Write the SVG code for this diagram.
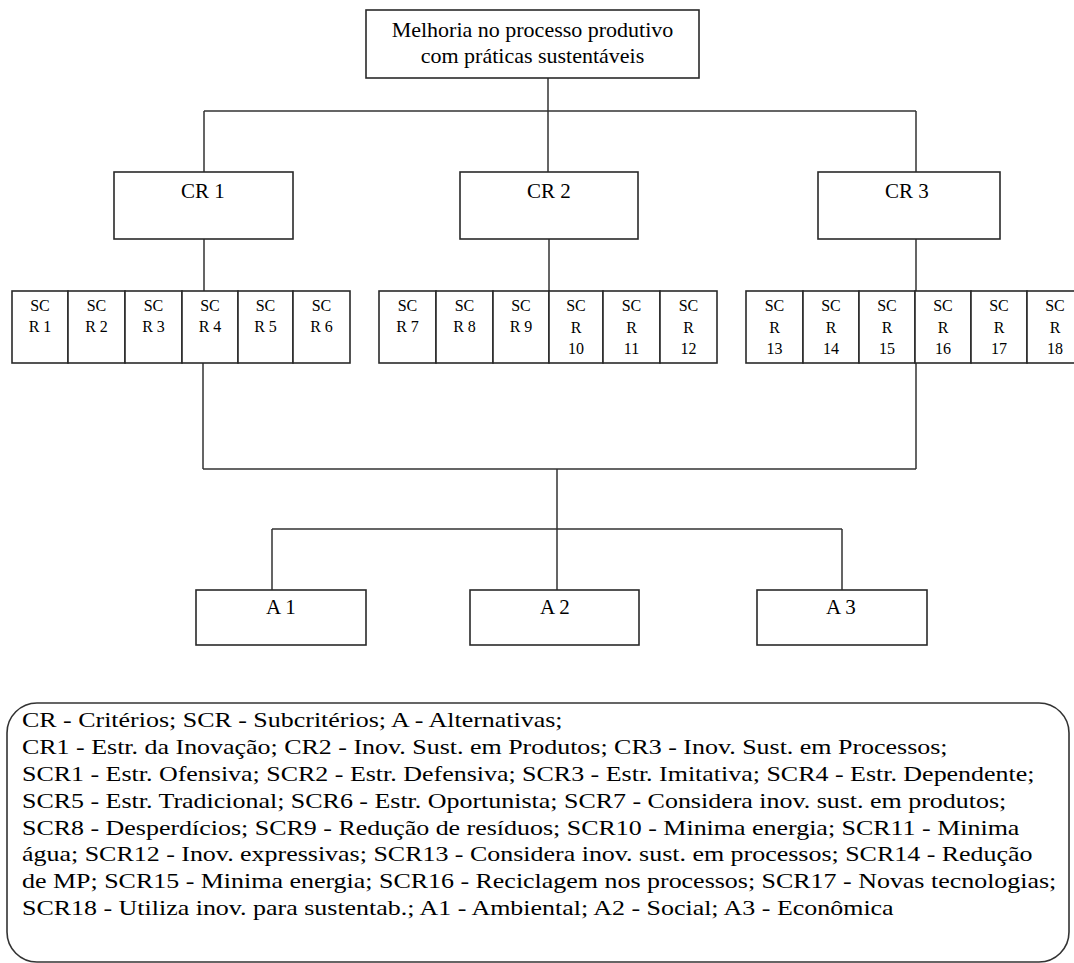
<svg xmlns="http://www.w3.org/2000/svg" width="1074" height="963" viewBox="0 0 1074 963">
<style>
.box{fill:#fff;stroke:#2a2a2a;stroke-width:1.6}
.ln{stroke:#333;stroke-width:1.5;fill:none}
.t{font-family:"Liberation Serif","Times New Roman",serif;fill:#000;text-anchor:middle}
.top{font-size:22px}
.cr{font-size:21px}
.sc{font-size:16px}
.lg{font-family:"Liberation Serif","Times New Roman",serif;font-size:22px;fill:#000}
</style>
<rect width="1074" height="963" fill="#fff"/>
<g id="connectors">
<path class="ln" d="M548,78V111M204,111H916M204,111V172M548,111V172M916,111V172"/>
<path class="ln" d="M204,239V291M549,239V291M916,239V291"/>
<path class="ln" d="M203,363V469M916,363V469M203,469H916"/>
<path class="ln" d="M557,469V590M272,529H842M272,529V590M842,529V590"/>
</g>
<g id="goal">
<rect class="box" x="366" y="10" width="333" height="68"/>
<text class="t top" x="532.5" y="37">Melhoria no processo produtivo</text>
<text class="t top" x="532.5" y="63">com práticas sustentáveis</text>
</g>
<g id="cr1"><rect class="box" x="114" y="172" width="179" height="67"/><text class="t cr" x="203" y="198">CR 1</text></g>
<g id="cr2"><rect class="box" x="460" y="172" width="178" height="67"/><text class="t cr" x="549" y="198">CR 2</text></g>
<g id="cr3"><rect class="box" x="818" y="172" width="182" height="67"/><text class="t cr" x="907" y="198">CR 3</text></g>
<g id="scr1"><rect class="box" x="12" y="291" width="56" height="72"/><text class="t sc" x="40" y="311">SC</text><text class="t sc" x="40" y="332">R 1</text></g>
<g id="scr2"><rect class="box" x="68" y="291" width="57" height="72"/><text class="t sc" x="96.5" y="311">SC</text><text class="t sc" x="96.5" y="332">R 2</text></g>
<g id="scr3"><rect class="box" x="125" y="291" width="57" height="72"/><text class="t sc" x="153.5" y="311">SC</text><text class="t sc" x="153.5" y="332">R 3</text></g>
<g id="scr4"><rect class="box" x="182" y="291" width="56" height="72"/><text class="t sc" x="210" y="311">SC</text><text class="t sc" x="210" y="332">R 4</text></g>
<g id="scr5"><rect class="box" x="238" y="291" width="55" height="72"/><text class="t sc" x="265.5" y="311">SC</text><text class="t sc" x="265.5" y="332">R 5</text></g>
<g id="scr6"><rect class="box" x="293" y="291" width="57" height="72"/><text class="t sc" x="321.5" y="311">SC</text><text class="t sc" x="321.5" y="332">R 6</text></g>
<g id="scr7"><rect class="box" x="379" y="291" width="57" height="72"/><text class="t sc" x="407.5" y="311">SC</text><text class="t sc" x="407.5" y="332">R 7</text></g>
<g id="scr8"><rect class="box" x="436" y="291" width="57" height="72"/><text class="t sc" x="464.5" y="311">SC</text><text class="t sc" x="464.5" y="332">R 8</text></g>
<g id="scr9"><rect class="box" x="493" y="291" width="56" height="72"/><text class="t sc" x="521" y="311">SC</text><text class="t sc" x="521" y="332">R 9</text></g>
<g id="scr10"><rect class="box" x="549" y="291" width="54" height="72"/><text class="t sc" x="576" y="311">SC</text><text class="t sc" x="576" y="333">R</text><text class="t sc" x="576" y="354">10</text></g>
<g id="scr11"><rect class="box" x="603" y="291" width="57" height="72"/><text class="t sc" x="631.5" y="311">SC</text><text class="t sc" x="631.5" y="333">R</text><text class="t sc" x="631.5" y="354">11</text></g>
<g id="scr12"><rect class="box" x="660" y="291" width="57" height="72"/><text class="t sc" x="688.5" y="311">SC</text><text class="t sc" x="688.5" y="333">R</text><text class="t sc" x="688.5" y="354">12</text></g>
<g id="scr13"><rect class="box" x="746" y="291" width="57" height="72"/><text class="t sc" x="774.5" y="311">SC</text><text class="t sc" x="774.5" y="333">R</text><text class="t sc" x="774.5" y="354">13</text></g>
<g id="scr14"><rect class="box" x="803" y="291" width="56" height="72"/><text class="t sc" x="831" y="311">SC</text><text class="t sc" x="831" y="333">R</text><text class="t sc" x="831" y="354">14</text></g>
<g id="scr15"><rect class="box" x="859" y="291" width="56" height="72"/><text class="t sc" x="887" y="311">SC</text><text class="t sc" x="887" y="333">R</text><text class="t sc" x="887" y="354">15</text></g>
<g id="scr16"><rect class="box" x="915" y="291" width="56" height="72"/><text class="t sc" x="943" y="311">SC</text><text class="t sc" x="943" y="333">R</text><text class="t sc" x="943" y="354">16</text></g>
<g id="scr17"><rect class="box" x="971" y="291" width="56" height="72"/><text class="t sc" x="999" y="311">SC</text><text class="t sc" x="999" y="333">R</text><text class="t sc" x="999" y="354">17</text></g>
<g id="scr18"><rect class="box" x="1027" y="291" width="56" height="72"/><text class="t sc" x="1055" y="311">SC</text><text class="t sc" x="1055" y="333">R</text><text class="t sc" x="1055" y="354">18</text></g>
<g id="a1"><rect class="box" x="196" y="590" width="170" height="55"/><text class="t cr" x="281" y="614">A 1</text></g>
<g id="a2"><rect class="box" x="470" y="590" width="169" height="55"/><text class="t cr" x="555" y="614">A 2</text></g>
<g id="a3"><rect class="box" x="757" y="590" width="170" height="55"/><text class="t cr" x="841" y="614">A 3</text></g>
<g id="legend">
<rect x="7" y="703" width="1062" height="259" rx="30" ry="30" fill="#fff" stroke="#333" stroke-width="1.6"/>
<g transform="translate(22,0) scale(1.18,1)">
<text class="lg" x="0" y="727">CR - Critérios; SCR - Subcritérios; A - Alternativas;</text>
<text class="lg" x="0" y="754">CR1 - Estr. da Inovação; CR2 - Inov. Sust. em Produtos; CR3 - Inov. Sust. em Processos;</text>
<text class="lg" x="0" y="781">SCR1 - Estr. Ofensiva; SCR2 - Estr. Defensiva; SCR3 - Estr. Imitativa; SCR4 - Estr. Dependente;</text>
<text class="lg" x="0" y="808">SCR5 - Estr. Tradicional; SCR6 - Estr. Oportunista; SCR7 - Considera inov. sust. em produtos;</text>
<text class="lg" x="0" y="835">SCR8 - Desperdícios; SCR9 - Redução de resíduos; SCR10 - Minima energia; SCR11 - Minima</text>
<text class="lg" x="0" y="861">água; SCR12 - Inov. expressivas; SCR13 - Considera inov. sust. em processos; SCR14 - Redução</text>
<text class="lg" x="0" y="888">de MP; SCR15 - Minima energia; SCR16 - Reciclagem nos processos; SCR17 - Novas tecnologias;</text>
<text class="lg" x="0" y="915">SCR18 - Utiliza inov. para sustentab.; A1 - Ambiental; A2 - Social; A3 - Econômica</text>
</g>
</g>
</svg>
